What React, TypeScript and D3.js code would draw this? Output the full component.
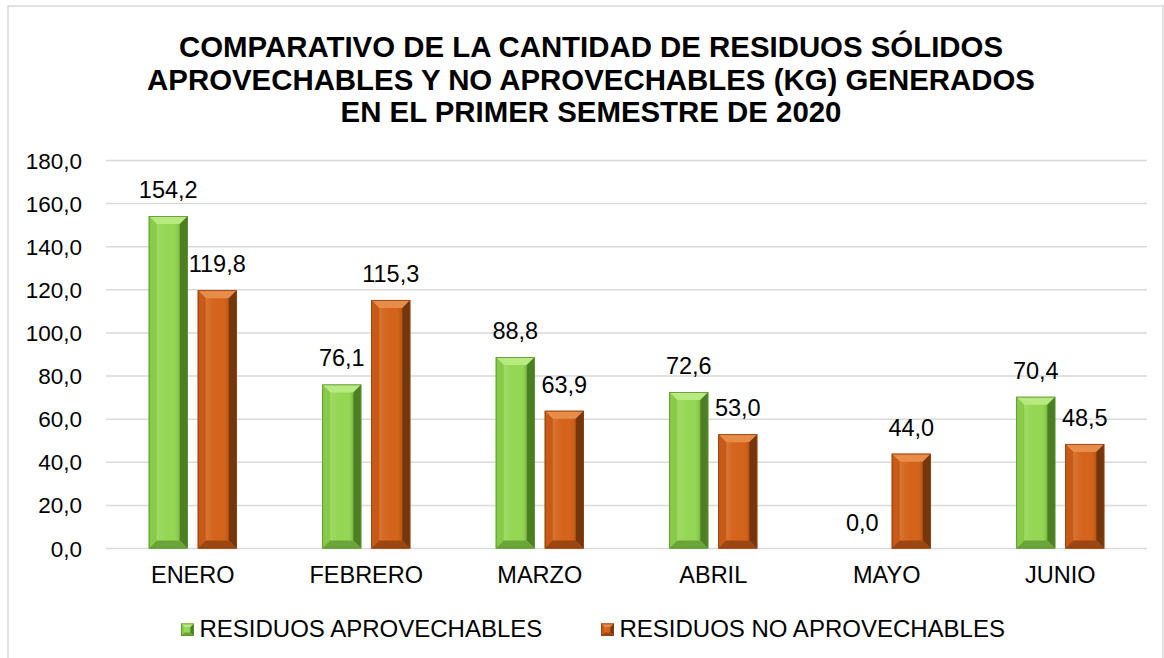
import React from "react";
import * as d3 from "d3";

const categories = ["ENERO", "FEBRERO", "MARZO", "ABRIL", "MAYO", "JUNIO"];
const aprovechables = [154.2, 76.1, 88.8, 72.6, 0.0, 70.4];
const noAprovechables = [119.8, 115.3, 63.9, 53.0, 44.0, 48.5];
const yTicks = [0, 20, 40, 60, 80, 100, 120, 140, 160, 180];
const seriesNames = ["RESIDUOS APROVECHABLES", "RESIDUOS NO APROVECHABLES"];
const titleLines = [
  "COMPARATIVO DE LA CANTIDAD DE RESIDUOS SÓLIDOS",
  "APROVECHABLES Y NO APROVECHABLES (KG) GENERADOS",
  "EN EL PRIMER SEMESTRE DE 2020",
];

const W = 1164;
const H = 658;
const FONT = "'Liberation Sans', Arial, sans-serif";

const palettes = [
  { face: "#95D654", top: "#B8EA82", left: "#88CB49", right: "#4C7E24", bottom: "#6BA438", edge: "#5B8F30" },
  { face: "#D4641C", top: "#E88C4A", left: "#C75A16", right: "#76360C", bottom: "#9C4712", edge: "#8A3F10" },
];

const fmt = (v: number) => d3.format(".1f")(v).replace(".", ",");

function BevelBar({ x, y, w, h, pal, idx, b }: { x: number; y: number; w: number; h: number; pal: any; idx: number; b: number }) {
  if (h <= 0.5) return null;
  const bb = Math.min(b, h / 2, w / 2);
  const pts = (arr: number[][]) => arr.map((p) => p.join(",")).join(" ");
  const x0 = x, x1 = x + w, y0 = y, y1 = y + h;
  return (
    <g>
      <rect x={x0} y={y0} width={w} height={h} fill={pal.face} />
      <polygon points={pts([[x0, y0], [x1, y0], [x1 - bb, y0 + bb], [x0 + bb, y0 + bb]])} fill={pal.top} />
      <polygon points={pts([[x0, y0], [x0 + bb, y0 + bb], [x0 + bb, y1 - bb], [x0, y1]])} fill={pal.left} />
      <polygon points={pts([[x1, y0], [x1, y1], [x1 - bb, y1 - bb], [x1 - bb, y0 + bb]])} fill={pal.right} />
      <polygon points={pts([[x0, y1], [x0 + bb, y1 - bb], [x1 - bb, y1 - bb], [x1, y1]])} fill={pal.bottom} />
      <rect x={x0 + bb} y={y0 + bb} width={Math.max(0, w - 2 * bb)} height={Math.max(0, h - 2 * bb)} fill={`url(#faceGrad${idx})`} />
      <rect x={x0 + 0.4} y={y0 + 0.4} width={w - 0.8} height={h - 0.8} fill="none" stroke={pal.edge} strokeWidth={0.8} />
    </g>
  );
}

export default function App() {
  const left = 106, right = 1147;
  const x = d3.scaleBand<string>().domain(categories).range([left, right]).paddingInner(0).paddingOuter(0);
  const y = d3.scaleLinear().domain([0, 180]).range([548.5, 160.5]);
  const barW = 39;
  const offset = 24.5;
  const series = [aprovechables, noAprovechables];

  return (
    <div style={{ position: "absolute", left: 0, top: 0 }}>
      <svg width={W} height={H} style={{ display: "block", background: "#fff" }}>
        <defs>
          {palettes.map((p, i) => (
            <linearGradient key={i} id={`faceGrad${i}`} x1="0" y1="0" x2="1" y2="0">
              <stop offset="0" stopColor="#ffffff" stopOpacity={0.12} />
              <stop offset="0.5" stopColor={p.face} stopOpacity={0} />
              <stop offset="0.75" stopColor={p.face} stopOpacity={0} />
              <stop offset="1" stopColor={p.right} stopOpacity={0.35} />
            </linearGradient>
          ))}
        </defs>
        <rect x={8} y={6} width={1155} height={700} fill="#fff" stroke="#d9d9d9" strokeWidth={1.5} />
        {titleLines.map((t, i) => (
          <text key={i} x={591} y={57 + i * 32.5} textAnchor="middle" fontFamily={FONT} fontWeight="bold" fontSize={29.4} fill="#000">
            {t}
          </text>
        ))}
        {yTicks.map((t) => (
          <g key={t}>
            <line x1={left} x2={right} y1={y(t)} y2={y(t)} stroke="#d9d9d9" strokeWidth={1.5} />
            <text x={82} y={y(t) + 8} textAnchor="end" fontFamily={FONT} fontSize={22.5} fill="#000">
              {fmt(t)}
            </text>
          </g>
        ))}
        {categories.map((c, ci) => {
          const cx = (x(c) as number) + x.bandwidth() / 2;
          return (
            <g key={c}>
              {series.map((s, si) => {
                const bx = cx + (si === 0 ? -offset : offset) - barW / 2;
                const by = y(s[ci]);
                return (
                  <g key={si}>
                    <BevelBar x={bx} y={by} w={barW} h={y(0) - by} pal={palettes[si]} idx={si} b={8} />
                    <text x={bx + barW / 2} y={by - 18} textAnchor="middle" fontFamily={FONT} fontSize={23.5} fill="#000">
                      {fmt(s[ci])}
                    </text>
                  </g>
                );
              })}
              <text x={cx} y={583} textAnchor="middle" fontFamily={FONT} fontSize={23.5} fill="#000">
                {c}
              </text>
            </g>
          );
        })}
        {seriesNames.map((n, i) => {
          const lx = i === 0 ? 181 : 601;
          return (
            <g key={n}>
              <BevelBar x={lx} y={623.5} w={13} h={12.5} pal={palettes[i]} idx={i} b={3.5} />
              <text x={lx + 18.5} y={636.5} fontFamily={FONT} fontSize={24} fill="#000">
                {n}
              </text>
            </g>
          );
        })}
      </svg>
    </div>
  );
}
